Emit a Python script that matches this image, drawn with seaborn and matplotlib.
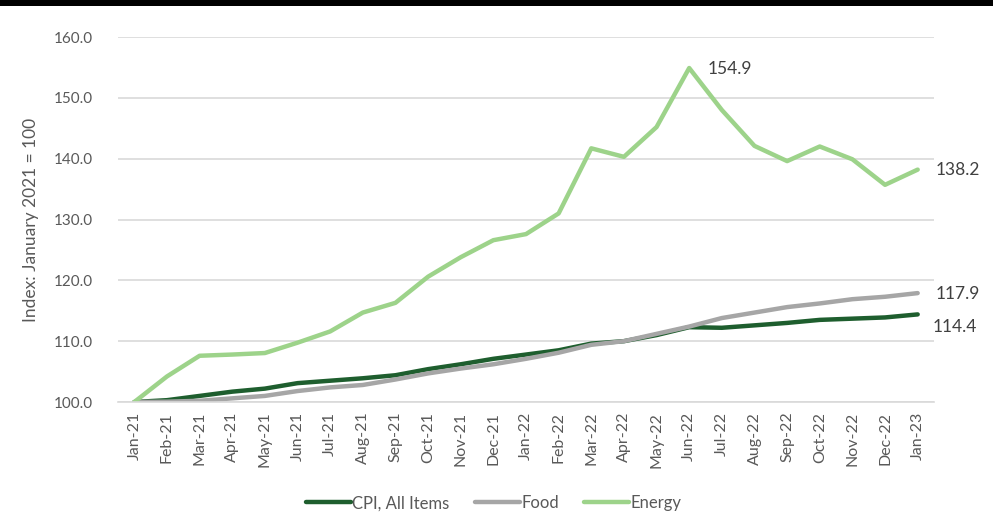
import matplotlib
matplotlib.use("Agg")
import matplotlib.pyplot as plt
import seaborn as sns
import pandas as pd
import numpy as np
from matplotlib.patches import Rectangle
from matplotlib.lines import Line2D

months = ["Jan-21", "Feb-21", "Mar-21", "Apr-21", "May-21", "Jun-21", "Jul-21", "Aug-21",
          "Sep-21", "Oct-21", "Nov-21", "Dec-21", "Jan-22", "Feb-22", "Mar-22", "Apr-22",
          "May-22", "Jun-22", "Jul-22", "Aug-22", "Sep-22", "Oct-22", "Nov-22", "Dec-22", "Jan-23"]

cpi = [100.0, 100.3, 101.0, 101.7, 102.2, 103.1, 103.5, 103.9, 104.4, 105.4, 106.2, 107.1, 107.8,
       108.5, 109.6, 110.0, 111.0, 112.3, 112.2, 112.6, 113.0, 113.5, 113.7, 113.9, 114.4]
food = [100.0, 100.05, 100.2, 100.6, 101.0, 101.8, 102.4, 102.8, 103.7, 104.7, 105.5, 106.2, 107.1,
        108.1, 109.4, 110.0, 111.2, 112.4, 113.8, 114.7, 115.6, 116.2, 116.9, 117.3, 117.9]
energy = [100.0, 104.2, 107.6, 107.8, 108.05, 109.75, 111.6, 114.7, 116.3, 120.6, 123.8, 126.6, 127.6,
          131.0, 141.7, 140.3, 145.2, 154.9, 148.0, 142.1, 139.6, 142.0, 139.9, 135.7, 138.2]

series_names = ["CPI, All Items", "Food", "Energy"]
colors = ["#1e5e2e", "#a6a6a6", "#9dd38a"]
yticks = [100, 110, 120, 130, 140, 150, 160]

df = pd.DataFrame({
    "pos": list(range(len(months))) * 3,
    "value": cpi + food + energy,
    "series": [series_names[0]] * len(months) + [series_names[1]] * len(months) + [series_names[2]] * len(months),
})

sns.set_theme(style="white")
plt.rcParams["font.family"] = ["Lato", "DejaVu Sans"]

fig = plt.figure(figsize=(9.93, 5.23), dpi=100)
ax = fig.add_axes([118 / 993, 1 - 402 / 523, (934 - 118) / 993, (402 - 37) / 523])

sns.lineplot(data=df, x="pos", y="value", hue="series", hue_order=series_names,
             palette=colors, linewidth=3.2, sort=False, ax=ax, legend=False)

for side in ["top", "right", "left"]:
    ax.spines[side].set_visible(False)
ax.spines["bottom"].set_color("#d9d9d9")
ax.spines["bottom"].set_linewidth(1.2)

ax.set_xlim(-0.5, len(months) - 0.5)
ax.set_ylim(100, 160)
ax.set_yticks(yticks)
ax.set_yticklabels([f"{v:.1f}" for v in yticks], color="#595959", fontsize=11)
ax.yaxis.grid(True, color="#d9d9d9", linewidth=1.2)
ax.set_axisbelow(True)
ax.tick_params(axis="y", length=0, pad=18)

ax.set_xticks(range(len(months)))
ax.set_xticklabels(months, rotation=90, color="#595959", fontsize=11.5)
ax.tick_params(axis="x", which="major", length=0, pad=7)
ax.set_xticks(np.arange(-0.5, len(months), 1.0), minor=True)
ax.tick_params(axis="x", which="minor", length=6, color="#d9d9d9", width=1.2)

ax.set_xlabel("")
ax.set_ylabel("Index: January 2021 = 100", color="#595959", fontsize=12.5, labelpad=11)

# data labels
peak_i = int(np.argmax(energy))
ax.annotate(f"{energy[peak_i]:.1f}", (peak_i, energy[peak_i]), xytext=(13, -1),
            textcoords="offset points", fontsize=12.5, color="#404040", va="center", ha="left")
last = len(months) - 1
ax.annotate(f"{energy[last]:.1f}", (last, energy[last]), xytext=(13, 0),
            textcoords="offset points", fontsize=12.5, color="#404040", va="center", ha="left",
            annotation_clip=False)
ax.annotate(f"{food[last]:.1f}", (last, food[last]), xytext=(13, -1),
            textcoords="offset points", fontsize=12.5, color="#404040", va="center", ha="left",
            annotation_clip=False)
ax.annotate(f"{cpi[last]:.1f}", (last, cpi[last]), xytext=(11, -9),
            textcoords="offset points", fontsize=12.5, color="#404040", va="center", ha="left",
            annotation_clip=False)

handles = [Line2D([0], [0], color=c, linewidth=3.2) for c in colors]
leg = fig.legend(handles, series_names, loc="center", bbox_to_anchor=(0.497, 0.038), ncol=3,
                 frameon=False, fontsize=12, handlelength=2.7, handletextpad=0.1,
                 columnspacing=1.5)
for t in leg.get_texts():
    t.set_color("#595959")

fig.patches.append(Rectangle((0, 1 - 6 / 523), 1, 6 / 523, transform=fig.transFigure,
                             facecolor="black", edgecolor="none", zorder=10))

fig.savefig("out.png", dpi=100)
